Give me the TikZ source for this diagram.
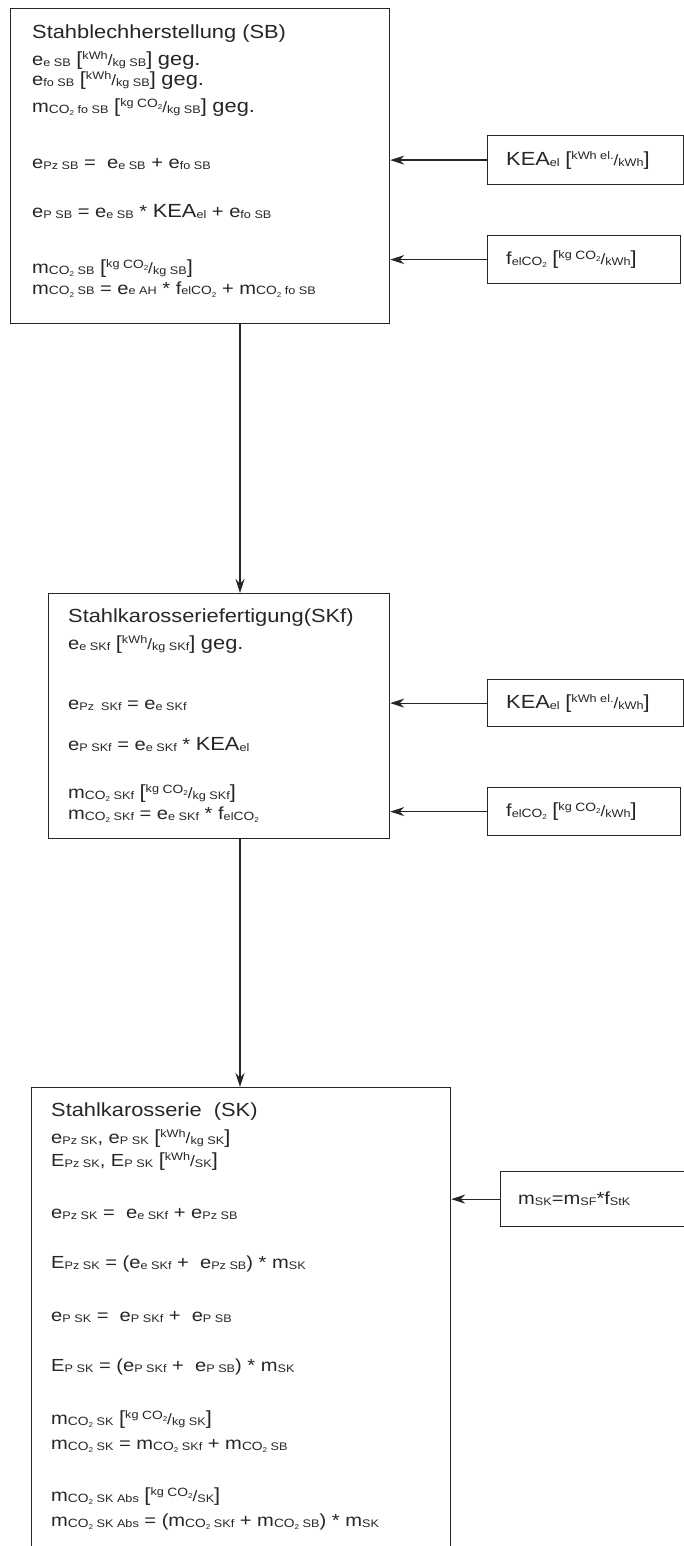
\documentclass[tikz,border=0pt]{standalone}
\usepackage{fontspec}
\setmainfont{Liberation Sans}[FakeStretch=1.15]
\usetikzlibrary{arrows.meta, positioning}

% font sizes
\newcommand{\bodysize}{\fontsize{17.5}{20}\selectfont}
\newcommand{\titlesize}{\fontsize{19}{22}\selectfont}
% small index letters, CO2, units in brackets
\newcommand{\ix}[1]{\raisebox{-1pt}{\fontsize{11}{12}\selectfont #1}}
\newcommand{\cotwo}{\raisebox{-1pt}{\fontsize{12}{12}\selectfont CO\raisebox{-2pt}{\fontsize{7}{7}\selectfont 2}}}
\newcommand{\bunit}[2]{{\titlesize[}\raisebox{6pt}{\fontsize{11}{12}\selectfont #1}{\fontsize{15}{15}\selectfont/}\raisebox{-1pt}{\fontsize{11}{12}\selectfont #2}{\titlesize]}}
\newcommand{\geg}{{\titlesize geg.}}
\newcommand{\kea}{{\titlesize KEA}\ix{el}}

\tikzset{
  stage/.style={rectangle, draw=black!85, line width=1.2pt, anchor=north west, inner sep=0pt},
  inbox/.style={rectangle, draw=black!85, line width=1.2pt, anchor=north west, inner sep=0pt},
  eqline/.style={anchor=base west, inner sep=0pt, text=black!85, font=\bodysize},
  titleline/.style={anchor=base west, inner sep=0pt, text=black!85, font=\titlesize},
  arrow/.style={-{Stealth[length=14pt, width=9pt]}, draw=black!85, line width=1.2pt},
}

\begin{document}
\begin{tikzpicture}[x=1pt, y=-1pt]
    \useasboundingbox[fill=white] (0,0) rectangle (684,1546);
    \clip (0,0) rectangle (684,1546);

    % Stahlblech
    \node[stage, minimum width=379pt, minimum height=315pt] (sb) at (10,8) {};
    \node[titleline] (sb1) at (32,39) {Stahblechherstellung (SB)};
    \node[eqline] (sb2) at (32,66) {e\ix{e SB} \bunit{kWh}{kg SB} \geg};
    \node[eqline] (sb3) at (32,86) {e\ix{fo SB} \bunit{kWh}{kg SB} \geg};
    \node[eqline] (sb4) at (32,113) {m\cotwo\ix{ fo SB} \bunit{kg \cotwo}{kg SB} \geg};
    \node[eqline] (sb5) at (32,169) {e\ix{Pz SB} = \ e\ix{e SB} + e\ix{fo SB}};
    \node[eqline] (sb6) at (32,218) {e\ix{P SB} = e\ix{e SB} * \kea{} + e\ix{fo SB}};
    \node[eqline] (sb7) at (32,273) {m\cotwo\ix{ SB} \bunit{kg \cotwo}{kg SB}};
    \node[eqline] (sb8) at (32,294) {m\cotwo\ix{ SB} = e\ix{e AH} * f\ix{el}\cotwo{} + m\cotwo\ix{ fo SB}};

    % Karosseriefertigung
    \node[stage, minimum width=341pt, minimum height=245pt] (skf) at (48,593) {};
    \node[titleline] (skf1) at (68,622) {Stahlkarosseriefertigung(SKf)};
    \node[eqline] (skf2) at (68,649) {e\ix{e SKf} \bunit{kWh}{kg SKf} \geg};
    \node[eqline] (skf3) at (68,709) {e\ix{Pz \ SKf} = e\ix{e SKf}};
    \node[eqline] (skf4) at (68,750) {e\ix{P SKf} = e\ix{e SKf} * \kea};
    \node[eqline] (skf5) at (68,798) {m\cotwo\ix{ SKf} \bunit{kg \cotwo}{kg SKf}};
    \node[eqline] (skf6) at (68,819) {m\cotwo\ix{ SKf} = e\ix{e SKf} * f\ix{el}\cotwo};

    % Karosserie
    \node[stage, minimum width=419pt, minimum height=500pt] (sk) at (31,1087) {};
    \node[titleline] (sk1) at (51,1116) {Stahlkarosserie \ (SK)};
    \node[eqline] (sk2) at (51,1143) {e\ix{Pz SK}, e\ix{P SK} \bunit{kWh}{kg SK}};
    \node[eqline] (sk3) at (51,1166) {E\ix{Pz SK}, E\ix{P SK} \bunit{kWh}{SK}};
    \node[eqline] (sk4) at (51,1218) {e\ix{Pz SK} = \ e\ix{e SKf} + e\ix{Pz SB}};
    \node[eqline] (sk5) at (51,1268) {E\ix{Pz SK} = (e\ix{e SKf} + \ e\ix{Pz SB}) * m\ix{SK}};
    \node[eqline] (sk6) at (51,1321) {e\ix{P SK} = \ e\ix{P SKf} + \ e\ix{P SB}};
    \node[eqline] (sk7) at (51,1371) {E\ix{P SK} = (e\ix{P SKf} + \ e\ix{P SB}) * m\ix{SK}};
    \node[eqline] (sk8) at (51,1424) {m\cotwo\ix{ SK} \bunit{kg \cotwo}{kg SK}};
    \node[eqline] (sk9) at (51,1449) {m\cotwo\ix{ SK} = m\cotwo\ix{ SKf} + m\cotwo\ix{ SB}};
    \node[eqline] (sk10) at (51,1501) {m\cotwo\ix{ SK Abs} \bunit{kg \cotwo}{SK}};
    \node[eqline] (sk11) at (51,1526) {m\cotwo\ix{ SK Abs} = (m\cotwo\ix{ SKf} + m\cotwo\ix{ SB}) * m\ix{SK}};

    % inputs on the right
    \node[inbox, minimum width=196pt, minimum height=49pt] (kea1) at (487,135) {};
    \node[eqline, right=19pt of kea1.west] (kea1t) {\kea\ \bunit{kWh el.}{kWh}};
    \node[inbox, minimum width=193pt, minimum height=48pt] (fel1) at (487,235) {};
    \node[eqline, right=19pt of fel1.west] (fel1t) {f\ix{el}\cotwo\ \bunit{kg \cotwo}{kWh}};
    \node[inbox, minimum width=196pt, minimum height=47pt] (kea2) at (487,679) {};
    \node[eqline, right=19pt of kea2.west] (kea2t) {\kea\ \bunit{kWh el.}{kWh}};
    \node[inbox, minimum width=193pt, minimum height=48pt] (fel2) at (487,787) {};
    \node[eqline, right=19pt of fel2.west] (fel2t) {f\ix{el}\cotwo\ \bunit{kg \cotwo}{kWh}};
    \node[inbox, minimum width=184pt, minimum height=55pt] (msk) at (500,1171) {};
    \node[eqline, right=18pt of msk.west] (mskt) {m\ix{SK}=m\ix{SF}*f\ix{StK}};

    % flow down
    \coordinate (spine) at (240,0);
    \draw[arrow] (sb.south -| spine) -- (skf.north -| spine);
    \draw[arrow] (skf.south -| spine) -- (sk.north -| spine);

    % inputs
    \draw[arrow] (kea1.west) -- (kea1.west -| sb.east);
    \draw[arrow] (fel1.west) -- (fel1.west -| sb.east);
    \draw[arrow] (kea2.west) -- (kea2.west -| skf.east);
    \draw[arrow] (fel2.west) -- (fel2.west -| skf.east);
    \draw[arrow] (msk.west) -- (msk.west -| sk.east);
\end{tikzpicture}
\end{document}
